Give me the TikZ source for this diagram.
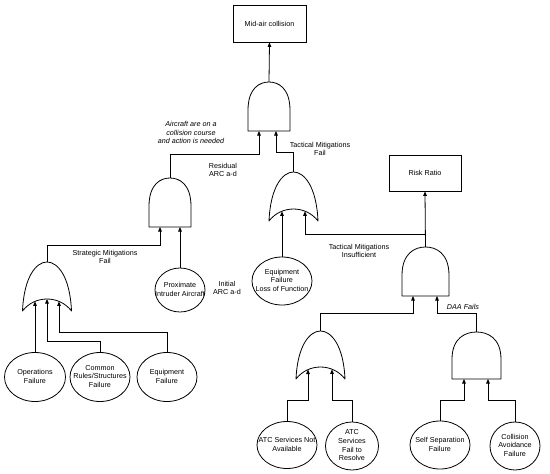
\documentclass[tikz,border=0pt]{standalone}
\usepackage{fontspec}
\setmainfont{Liberation Sans}
\usetikzlibrary{shapes.geometric,arrows.meta}
\newcommand\fs{\fontsize{7.2}{8.6}\selectfont}
\newcommand\ctext[1]{\smash{\raisebox{-1.8pt}{\makebox[0pt]{\begin{tabular}{@{}c@{}}#1\end{tabular}}}}}
\newcommand\ANDg[5]{% name cx top bottom width
 \draw[gate] ({#2-#5/2},#4) -- ({#2-#5/2},{#4-0.42*(#4-#3)})
   .. controls ({#2-#5/2},{#3+0.12*(#4-#3)}) and ({#2-0.22*#5},#3) .. (#2,#3)
   .. controls ({#2+0.22*#5},#3) and ({#2+#5/2},{#3+0.12*(#4-#3)}) .. ({#2+#5/2},{#4-0.42*(#4-#3)})
   -- ({#2+#5/2},#4) -- cycle;
 \coordinate (#1top) at (#2,#3);
}
\newcommand\ORg[6]{% name cx top bottom width depth
 \draw[gate] ({#2-#5/2},#4)
   .. controls ({#2-0.47*#5},{#3+0.3*(#4-#3)}) and ({#2-0.22*#5},#3) .. (#2,#3)
   .. controls ({#2+0.22*#5},#3) and ({#2+0.47*#5},{#3+0.3*(#4-#3)}) .. ({#2+#5/2},#4)
   .. controls ({#2+0.25*#5},{#4-1.333*#6}) and ({#2-0.25*#5},{#4-1.333*#6}) .. ({#2-#5/2},#4) -- cycle;
 \coordinate (#1top) at (#2,#3);
}
\tikzset{
 gate/.style={draw, line width=0.8pt, line join=round},
 conn/.style={line width=0.8pt},
 arr/.style={line width=0.8pt, -{Triangle[length=4.5pt,width=3.6pt]}},
 evbox/.style={draw, line width=0.8pt, minimum width=73pt, minimum height=37pt, inner sep=0pt, font=\fs},
 ell/.style={draw, ellipse, line width=0.8pt, inner sep=0pt, outer sep=0pt, font=\fs},
 lbl/.style={align=center, font=\fs, inner sep=0pt}
}
\begin{document}
\begin{tikzpicture}[x=1pt,y=-1pt]
\fill[white] (0,0) rectangle (550,474);
\useasboundingbox (0,0) rectangle (550,474);

% boxes
\node[evbox] (mac) at (269.5,23.5) {Mid-air collision};
\node[evbox, minimum width=72pt, minimum height=36pt] (rr) at (425,173) {Risk Ratio};

% gates
\ANDg{g1}{269}{82}{131}{42}
\ANDg{g2}{170}{178}{227}{42}
\ORg{g3}{293.5}{172}{221}{49}{12}
\ORg{g4}{47}{262}{311}{49}{12}
\ANDg{g5}{425.5}{247}{296}{47}
\ORg{g6}{320.5}{331}{379}{49}{12}
\ANDg{g7}{476.5}{332}{379}{49}

% gate inputs
\coordinate (g1in1) at (259,131);
\coordinate (g1in2) at (276,131);
\coordinate (g2in1) at (160,227);
\coordinate (g2in2) at (180,227);
\coordinate (g3in1) at (282,211.3);
\coordinate (g3in2) at (305,211.3);
\coordinate (g4in1) at (35,301.4);
\coordinate (g4in2) at (47,299);
\coordinate (g4in3) at (59,301.4);
\coordinate (g5in1) at (413,296);
\coordinate (g5in2) at (437,296);
\coordinate (g6in1) at (308,369.5);
\coordinate (g6in2) at (332,369.3);
\coordinate (g7in1) at (464,379);
\coordinate (g7in2) at (488,379);

% basic events
\node[ell, minimum width=50pt, minimum height=44pt] (prox) at (180,290) {\ctext{Proximate\\Intruder Aircraft}};
\node[ell, minimum width=60pt, minimum height=48pt] (eqlof) at (282,281) {\ctext{Equipment\\Failure\\Loss of Function}};
\node[ell, minimum width=61pt, minimum height=49pt] (ops) at (35,377) {\ctext{Operations\\Failure}};
\node[ell, minimum width=60pt, minimum height=49pt] (crs) at (100,377) {\ctext{Common\\Rules/Structures\\Failure}};
\node[ell, minimum width=60pt, minimum height=49pt] (eqf) at (167,377) {\ctext{Equipment\\Failure}};
\node[ell, minimum width=60pt, minimum height=47pt] (atcna) at (287,445) {\ctext{ATC Services Not\\Available}};
\node[ell, minimum width=53pt, minimum height=48pt] (atcfr) at (352,446) {\ctext{ATC\\Services\\Fail to\\Resolve}};
\node[ell, minimum width=60pt, minimum height=48pt] (ssf) at (440,445) {\ctext{Self Separation\\Failure}};
\node[ell, minimum width=50pt, minimum height=48pt] (caf) at (515,446) {\ctext{Collision\\Avoidance\\Failure}};

% junction coordinates
\coordinate (j1) at (170,154);
\coordinate (j2) at (293.5,152);
\coordinate (j3) at (47,245);
\coordinate (j4) at (425.5,234);
\coordinate (j5) at (320.5,313);
\coordinate (j6) at (476.5,313);
\coordinate (j7) at (100,341);
\coordinate (j8) at (167,332);
\coordinate (j9) at (287,400);
\coordinate (j10) at (352,400);
\coordinate (j11) at (440,400);
\coordinate (j12) at (515,400);

% connectors
\draw[arr] (g1top) -- (mac.south);
\draw[arr] (g2top) -- (j1) -| (g1in1);
\draw[arr] (g3top) -- (j2) -| (g1in2);
\draw[arr] (g4top) -- (j3) -| (g2in1);
\draw[arr] (prox.north) -- (g2in2);
\draw[arr] (eqlof.north) -- (g3in1);
\draw[arr] (g5top) -- (rr.south);
\draw[arr] (j4) -| (g3in2);
\draw[arr] (ops.north) -- (g4in1);
\draw[arr] (crs.north) -- (j7) -| (g4in2);
\draw[arr] (eqf.north) -- (j8) -| (g4in3);
\draw[arr] (g6top) -- (j5) -| (g5in1);
\draw[arr] (g7top) -- (j6) -| (g5in2);
\draw[arr] (atcna.north) -- (j9) -| (g6in1);
\draw[arr] (atcfr.north) -- (j10) -| (g6in2);
\draw[arr] (ssf.north) -- (j11) -| (g7in1);
\draw[arr] (caf.north) -- (j12) -| (g7in2);

% labels
\node[lbl, font=\fs\itshape] (l1) at (191,132.5) {Aircraft are on a\\collision course\\and action is needed};
\node[lbl] (l2) at (223,170) {Residual\\ARC a-d};
\node[lbl] (l3) at (320,149) {Tactical Mitigations\\Fail};
\node[lbl] (l4) at (105,257) {Strategic Mitigations\\Fail};
\node[lbl] (l5) at (227,288) {Initial\\ARC a-d};
\node[lbl] (l6) at (359,251) {Tactical Mitigations\\Insufficient};
\node[lbl, font=\fs\itshape] (l7) at (463,307) {DAA Fails};
\end{tikzpicture}
\end{document}
